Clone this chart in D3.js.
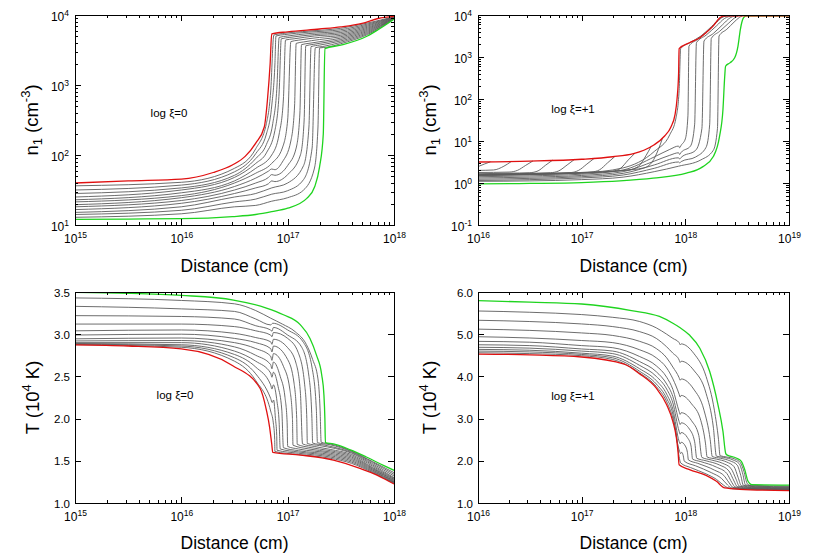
<!DOCTYPE html>
<html><head><meta charset="utf-8">
<script src="https://cdn.jsdelivr.net/npm/d3@7"></script>
<style>body{margin:0;background:#fff} text{font-family:"Liberation Sans",Arial,sans-serif}</style>
</head><body><svg id="c" width="830" height="554"></svg>
<script>
// ---------- tick arrays (exponents / values) ----------
const xDecA = [15,16,17,18];
const yDecA = [1,2,3,4];
const xDecB = [16,17,18,19];
const yDecB = [-1,0,1,2,3,4];
const yTicksC = [1.0,1.5,2.0,2.5,3.0,3.5];
const yTicksD = [1,2,3,4,5,6];
const noteA = "log ξ=0", noteB = "log ξ=+1";
const xTitle = "Distance (cm)";

// ---------- Panel A: n1, log xi = 0  ([log10 x, log10 n]) ----------
const redA = [[15,1.60],[15.5,1.63],[16,1.655],[16.3,1.75],[16.48,1.857],[16.6,1.98],[16.7,2.17],[16.78,2.40],[16.81,2.79],[16.835,3.3],[16.85,3.73],[17,3.76],[17.3,3.80],[17.5,3.83],[17.7,3.88],[17.85,3.95],[18,3.98]];
const greenA = [[15,1.08],[15.5,1.085],[16,1.09],[16.48,1.12],[16.7,1.15],[16.85,1.19],[17,1.24],[17.18,1.38],[17.255,1.55],[17.3,1.83],[17.335,2.3],[17.35,3.52],[17.5,3.57],[17.75,3.70],[17.85,3.79],[18,3.94]];
const graysA = [
 [[15,1.56],[16,1.61],[16.5,1.81],[16.7,2.09],[16.8,2.45],[16.84,2.9],[16.87,3.714],[16.95,3.735],[17.2,3.77],[17.5,3.81],[17.75,3.885],[18,3.975]],
 [[15,1.50],[16,1.57],[16.5,1.76],[16.7,2.02],[16.8,2.3],[16.85,2.7],[16.88,3.3],[16.89,3.70],[16.97,3.72],[17.2,3.755],[17.5,3.79],[17.75,3.87],[18,3.972]],
 [[15,1.45],[16,1.53],[16.5,1.71],[16.7,1.95],[16.8,2.15],[16.86,2.45],[16.9,3.0],[16.92,3.68],[17.0,3.70],[17.2,3.735],[17.5,3.77],[17.75,3.855],[18,3.97]],
 [[15,1.40],[16,1.50],[16.5,1.68],[16.7,1.88],[16.8,2.03],[16.88,2.35],[16.92,2.9],[16.94,3.66],[17.02,3.68],[17.25,3.72],[17.5,3.75],[17.75,3.84],[18,3.967]],
 [[15,1.36],[16,1.46],[16.5,1.63],[16.7,1.81],[16.85,2.0],[16.92,2.3],[16.96,2.8],[16.98,3.643],[17.06,3.66],[17.25,3.70],[17.5,3.73],[17.75,3.825],[18,3.964]],
 [[15,1.33],[16,1.42],[16.5,1.60],[16.7,1.74],[16.85,1.88],[16.95,2.1],[17.0,2.5],[17.03,3.62],[17.1,3.64],[17.3,3.68],[17.5,3.71],[17.75,3.81],[18,3.96]],
 [[15,1.29],[16,1.39],[16.5,1.55],[16.7,1.67],[16.82,1.77],[16.85,1.80],[16.88,1.79],[16.95,1.9],[17.03,2.2],[17.065,2.7],[17.08,3.595],[17.15,3.615],[17.3,3.65],[17.5,3.69],[17.75,3.795],[18,3.957]],
 [[15,1.26],[16,1.35],[16.5,1.50],[16.7,1.60],[16.82,1.68],[16.85,1.72],[16.88,1.71],[17.0,1.85],[17.08,2.1],[17.115,2.6],[17.13,3.576],[17.2,3.595],[17.35,3.63],[17.5,3.67],[17.75,3.78],[18,3.954]],
 [[15,1.22],[16,1.31],[16.5,1.45],[16.7,1.53],[16.82,1.59],[16.85,1.63],[16.88,1.62],[17.0,1.72],[17.12,2.0],[17.155,2.5],[17.17,3.56],[17.24,3.58],[17.5,3.65],[17.75,3.765],[18,3.951]],
 [[15,1.18],[16,1.26],[16.5,1.40],[16.7,1.45],[16.85,1.53],[17.0,1.6],[17.15,1.85],[17.2,2.4],[17.22,3.548],[17.3,3.57],[17.5,3.63],[17.75,3.75],[18,3.948]],
 [[15,1.15],[16,1.21],[16.5,1.33],[16.7,1.37],[16.85,1.44],[17.0,1.49],[17.15,1.65],[17.23,2.1],[17.26,3.533],[17.33,3.55],[17.5,3.61],[17.75,3.735],[18,3.945]],
 [[15,1.11],[16,1.16],[16.5,1.26],[16.7,1.28],[16.85,1.34],[17.0,1.39],[17.15,1.5],[17.25,1.8],[17.285,2.4],[17.30,3.53],[17.37,3.54],[17.5,3.59],[17.75,3.72],[18,3.942]]
];

// ---------- Panel B: n1, log xi = +1 ([log10 x, log10 n]) ----------
const redB = [[16,0.50],[16.5,0.52],[17,0.565],[17.3,0.625],[17.5,0.70],[17.6,0.78],[17.7,0.91],[17.8,1.12],[17.86,1.33],[17.9,1.62],[17.92,2.0],[17.935,2.6],[17.94,3.2],[18.04,3.34],[18.14,3.46],[18.2,3.58],[18.27,3.74],[18.33,3.93],[18.38,3.98],[19,3.98]];
const greenB = [[16,-0.02],[16.5,-0.01],[17,0.01],[17.37,0.05],[17.69,0.115],[18.01,0.235],[18.17,0.39],[18.27,0.63],[18.33,1.11],[18.363,1.75],[18.38,2.54],[18.388,2.78],[18.43,2.86],[18.476,2.98],[18.508,3.26],[18.531,3.66],[18.563,3.94],[18.59,3.98],[19,3.98]];
const graysB = [
 [[16,0.39],[16.06,0.45],[16.12,0.505]],
 [[16,0.30],[16.15,0.31],[16.25,0.40],[16.32,0.51]],
 [[16,0.25],[16.3,0.26],[16.38,0.30],[16.46,0.42],[16.53,0.525]],
 [[16,0.22],[16.3,0.235],[16.5,0.245],[16.58,0.29],[16.65,0.42],[16.72,0.545]],
 [[16,0.21],[16.4,0.225],[16.7,0.245],[16.78,0.29],[16.86,0.43],[16.93,0.56]],
 [[16,0.20],[16.5,0.225],[16.9,0.25],[16.97,0.30],[17.05,0.45],[17.12,0.585]],
 [[16,0.195],[16.5,0.215],[17.1,0.265],[17.17,0.31],[17.25,0.48],[17.32,0.63]],
 [[16,0.19],[16.5,0.21],[17,0.245],[17.3,0.285],[17.37,0.34],[17.45,0.55],[17.51,0.70]],
 [[16,0.185],[16.5,0.205],[17,0.24],[17.45,0.31],[17.55,0.40],[17.62,0.65],[17.67,0.87]],
 [[16,0.18],[16.5,0.20],[17,0.235],[17.4,0.30],[17.6,0.36],[17.68,0.50],[17.74,0.80],[17.78,1.07]],
 [[16,0.18],[16.5,0.2],[17,0.24],[17.4,0.36],[17.7,0.75],[17.85,1.15],[17.91,1.55],[17.94,2.2],[17.955,3.2],[18.05,3.35],[18.15,3.5],[18.25,3.72],[18.34,3.93],[18.40,3.98]],
 [[16,0.15],[16.5,0.17],[17,0.21],[17.4,0.31],[17.7,0.62],[17.85,0.80],[17.935,0.88],[17.945,0.84],[17.96,0.90],[18.0,1.05],[18.025,1.6],[18.035,3.26],[18.12,3.42],[18.22,3.62],[18.3,3.82],[18.37,3.96],[18.42,3.98]],
 [[16,0.12],[16.5,0.14],[17,0.18],[17.4,0.27],[17.7,0.52],[17.85,0.66],[17.935,0.72],[17.945,0.68],[17.96,0.73],[18.05,0.88],[18.09,1.4],[18.107,3.34],[18.2,3.52],[18.3,3.74],[18.38,3.92],[18.45,3.98]],
 [[16,0.09],[16.5,0.11],[17,0.15],[17.4,0.23],[17.7,0.43],[17.935,0.60],[17.945,0.57],[17.96,0.61],[18.1,0.78],[18.16,1.3],[18.18,3.38],[18.27,3.56],[18.36,3.77],[18.43,3.93],[18.48,3.98]],
 [[16,0.06],[16.5,0.08],[17,0.12],[17.4,0.19],[17.7,0.35],[17.935,0.50],[17.945,0.48],[17.96,0.51],[18.1,0.62],[18.2,0.85],[18.235,1.4],[18.25,3.44],[18.33,3.61],[18.42,3.81],[18.48,3.94],[18.51,3.98]],
 [[16,0.04],[16.5,0.05],[17,0.08],[17.4,0.14],[17.7,0.27],[17.935,0.40],[18.15,0.55],[18.27,0.78],[18.31,1.3],[18.325,3.5],[18.4,3.66],[18.47,3.83],[18.52,3.94],[18.55,3.98]]
];

// ---------- Panel C: T (1e4 K), log xi = 0 ([log10 x, T]) ----------
const redC = [[15,2.873],[15.5,2.86],[16,2.826],[16.48,2.63],[16.74,2.36],[16.8,2.1],[16.83,1.9],[16.85,1.7],[16.86,1.60],[17.12,1.568],[17.43,1.509],[17.68,1.41],[17.84,1.331],[17.96,1.252],[18,1.226]];
const greenC = [[15,3.496],[15.5,3.485],[16,3.46],[16.49,3.405],[16.8,3.31],[16.96,3.23],[17.12,3.11],[17.21,2.95],[17.27,2.755],[17.32,2.52],[17.341,2.28],[17.35,2.0],[17.355,1.714],[17.43,1.70],[17.59,1.63],[17.74,1.545],[17.9,1.446],[18,1.387]];
const graysC = [
 [[15,2.877],[16,2.845],[16.5,2.68],[16.7,2.45],[16.84,2.09],[16.865,1.95],[16.878,1.75],[16.88,1.61],[17.1,1.575],[17.4,1.53],[17.6,1.47],[17.8,1.36],[18,1.232]],
 [[15,2.883],[16,2.86],[16.5,2.72],[16.7,2.53],[16.84,2.24],[16.855,2.19],[16.868,2.22],[16.885,2.0],[16.897,1.8],[16.90,1.625],[17.1,1.59],[17.4,1.545],[17.6,1.485],[17.8,1.37],[18,1.238]],
 [[15,2.89],[16,2.875],[16.5,2.76],[16.7,2.61],[16.84,2.40],[16.852,2.35],[16.866,2.40],[16.9,2.2],[16.92,1.95],[16.93,1.64],[17.1,1.605],[17.4,1.56],[17.6,1.50],[17.8,1.38],[18,1.245]],
 [[15,2.90],[16,2.90],[16.5,2.80],[16.7,2.68],[16.84,2.54],[16.852,2.49],[16.866,2.55],[16.91,2.38],[16.945,2.1],[16.96,1.655],[17.1,1.62],[17.4,1.575],[17.6,1.515],[17.8,1.39],[18,1.252]],
 [[15,2.92],[16,2.925],[16.5,2.85],[16.7,2.75],[16.84,2.64],[16.852,2.59],[16.866,2.67],[16.93,2.5],[16.975,2.25],[16.995,1.95],[17.00,1.67],[17.1,1.64],[17.4,1.59],[17.6,1.53],[17.8,1.40],[18,1.26]],
 [[15,2.945],[16,2.955],[16.5,2.90],[16.7,2.83],[16.84,2.74],[16.852,2.69],[16.866,2.77],[16.96,2.62],[17.02,2.35],[17.045,2.0],[17.05,1.685],[17.2,1.64],[17.4,1.605],[17.6,1.545],[17.8,1.41],[18,1.27]],
 [[15,2.99],[16,3.00],[16.5,2.95],[16.7,2.90],[16.84,2.83],[16.852,2.79],[16.866,2.86],[17.0,2.7],[17.06,2.42],[17.085,2.0],[17.09,1.695],[17.2,1.66],[17.4,1.62],[17.6,1.56],[17.8,1.42],[18,1.28]],
 [[15,3.04],[16,3.05],[16.5,3.01],[16.7,2.96],[16.84,2.91],[16.852,2.88],[16.866,2.94],[17.0,2.84],[17.08,2.65],[17.12,2.3],[17.14,1.70],[17.25,1.67],[17.4,1.635],[17.6,1.575],[17.8,1.435],[18,1.29]],
 [[15,3.12],[16,3.12],[16.5,3.09],[16.7,3.04],[16.84,2.99],[16.852,2.97],[16.866,3.02],[17.0,2.95],[17.1,2.78],[17.16,2.4],[17.18,2.0],[17.185,1.705],[17.3,1.68],[17.45,1.645],[17.6,1.59],[17.8,1.45],[18,1.30]],
 [[15,3.22],[16,3.21],[16.5,3.18],[16.7,3.10],[16.84,3.05],[16.852,3.035],[16.866,3.08],[17.0,2.99],[17.13,2.85],[17.2,2.5],[17.228,2.0],[17.235,1.71],[17.35,1.685],[17.5,1.64],[17.6,1.60],[17.8,1.465],[18,1.32]],
 [[15,3.33],[16,3.30],[16.5,3.27],[16.7,3.18],[16.84,3.11],[16.86,3.13],[17.0,3.05],[17.15,2.9],[17.23,2.6],[17.27,2.1],[17.28,1.715],[17.4,1.69],[17.5,1.655],[17.6,1.61],[17.8,1.48],[18,1.34]],
 [[15,3.43],[16,3.40],[16.5,3.36],[16.7,3.28],[16.84,3.19],[16.95,3.12],[17.07,3.03],[17.175,2.88],[17.235,2.70],[17.285,2.47],[17.305,2.1],[17.315,1.72],[17.4,1.70],[17.5,1.665],[17.6,1.617],[17.8,1.49],[18,1.36]]
];

// ---------- Panel D: T (1e4 K), log xi = +1 ([log10 x, T]) ----------
const redD = [[16,4.53],[16.5,4.51],[17,4.46],[17.41,4.29],[17.56,4.06],[17.72,3.72],[17.82,3.33],[17.88,2.93],[17.914,2.54],[17.93,2.2],[17.94,1.907],[18.04,1.79],[18.2,1.656],[18.3,1.514],[18.38,1.356],[18.525,1.325],[19,1.295]];
const greenD = [[16,5.796],[16.5,5.76],[17,5.716],[17.48,5.56],[17.75,5.42],[17.88,5.26],[17.946,5.16],[18.04,4.98],[18.14,4.668],[18.235,4.116],[18.315,3.327],[18.363,2.697],[18.389,2.18],[18.40,2.14],[18.49,2.066],[18.54,1.988],[18.573,1.79],[18.605,1.514],[18.64,1.434],[19,1.425]];
const graysD = [
 [[16,4.56],[16.5,4.54],[17,4.49],[17.3,4.40],[17.56,4.08],[17.72,3.76],[17.82,3.40],[17.88,3.0],[17.915,2.6],[17.94,2.1],[17.955,1.95],[18.05,1.84],[18.2,1.69],[18.3,1.56],[18.37,1.42],[18.41,1.36],[18.5,1.33],[19,1.315]],
 [[16,4.60],[16.5,4.58],[17,4.52],[17.3,4.44],[17.56,4.12],[17.72,3.82],[17.82,3.48],[17.88,3.10],[17.93,2.35],[17.945,2.22],[17.955,2.17],[17.965,2.2],[17.98,2.12],[17.99,1.99],[18.1,1.88],[18.25,1.72],[18.35,1.58],[18.41,1.42],[18.44,1.36],[18.55,1.335],[19,1.32]],
 [[16,4.64],[16.5,4.62],[17,4.55],[17.3,4.48],[17.56,4.18],[17.72,3.90],[17.82,3.58],[17.88,3.22],[17.94,2.46],[17.95,2.40],[17.96,2.44],[18.0,2.35],[18.02,2.2],[18.03,2.02],[18.12,1.94],[18.28,1.78],[18.38,1.63],[18.43,1.45],[18.46,1.37],[18.58,1.34],[19,1.325]],
 [[16,4.69],[16.5,4.67],[17,4.60],[17.3,4.54],[17.56,4.26],[17.72,4.0],[17.82,3.70],[17.88,3.37],[17.94,2.70],[17.95,2.63],[17.96,2.67],[18.02,2.55],[18.055,2.35],[18.07,2.04],[18.15,1.98],[18.3,1.85],[18.4,1.70],[18.45,1.48],[18.48,1.38],[18.6,1.345],[19,1.33]],
 [[16,4.75],[16.5,4.73],[17,4.65],[17.3,4.60],[17.56,4.35],[17.72,4.11],[17.82,3.82],[17.88,3.52],[17.94,2.93],[17.95,2.86],[17.96,2.90],[18.04,2.75],[18.09,2.45],[18.11,2.06],[18.2,2.0],[18.33,1.90],[18.42,1.76],[18.47,1.52],[18.50,1.39],[18.62,1.355],[19,1.34]],
 [[16,4.83],[16.5,4.81],[17,4.73],[17.3,4.68],[17.56,4.47],[17.72,4.25],[17.82,3.98],[17.88,3.69],[17.94,3.17],[17.95,3.10],[17.96,3.14],[18.06,2.95],[18.13,2.6],[18.16,2.08],[18.25,2.02],[18.36,1.94],[18.44,1.82],[18.49,1.56],[18.52,1.40],[18.64,1.365],[19,1.35]],
 [[16,4.94],[16.5,4.91],[17,4.85],[17.3,4.80],[17.56,4.63],[17.72,4.44],[17.82,4.20],[17.88,3.94],[17.94,3.58],[17.95,3.51],[17.96,3.55],[18.06,3.35],[18.15,2.95],[18.195,2.4],[18.21,2.09],[18.3,2.04],[18.4,1.97],[18.47,1.86],[18.51,1.6],[18.54,1.41],[18.66,1.375],[19,1.36]],
 [[16,5.12],[16.5,5.09],[17,5.03],[17.3,4.97],[17.56,4.83],[17.72,4.66],[17.82,4.44],[17.88,4.22],[17.94,3.97],[17.95,3.91],[17.96,3.94],[18.08,3.7],[18.18,3.2],[18.24,2.5],[18.26,2.10],[18.34,2.06],[18.43,2.0],[18.5,1.9],[18.535,1.65],[18.56,1.42],[18.68,1.385],[19,1.37]],
 [[16,5.33],[16.5,5.30],[17,5.243],[17.3,5.18],[17.56,5.06],[17.72,4.90],[17.82,4.70],[17.88,4.55],[17.94,4.39],[17.95,4.33],[17.96,4.36],[18.08,4.15],[18.2,3.6],[18.27,2.8],[18.3,2.11],[18.37,2.08],[18.46,2.02],[18.52,1.93],[18.555,1.68],[18.58,1.43],[18.7,1.395],[19,1.385]],
 [[16,5.55],[16.5,5.52],[17,5.465],[17.3,5.40],[17.56,5.30],[17.72,5.15],[17.82,5.00],[17.88,4.90],[17.94,4.80],[17.95,4.75],[17.96,4.77],[18.08,4.55],[18.2,4.0],[18.28,3.2],[18.32,2.5],[18.335,2.12],[18.4,2.09],[18.48,2.04],[18.53,1.96],[18.565,1.75],[18.595,1.47],[18.62,1.42],[19,1.40]]
];

// ---------- drawing ----------
const FONT = '"Liberation Sans", Arial, sans-serif';
const svg = d3.select("#c");
const panels = [
  {id:"A", x0:75,  x1:394, y0:15,  y1:225, xDec:xDecA, logY:true,  yT:yDecA,  red:redA, green:greenA, grays:graysA, kind:"n", note:noteA, nx:169, ny:117, lx:38,  tb:272},
  {id:"B", x0:478, x1:789, y0:15,  y1:225, xDec:xDecB, logY:true,  yT:yDecB,  red:redB, green:greenB, grays:graysB, kind:"n", note:noteB, nx:573, ny:113, lx:436, tb:272},
  {id:"C", x0:75,  x1:394, y0:292, y1:503, xDec:xDecA, logY:false, yT:yTicksC, red:redC, green:greenC, grays:graysC, kind:"T", note:noteA, nx:175, ny:399, lx:39,  tb:549},
  {id:"D", x0:478, x1:789, y0:292, y1:503, xDec:xDecB, logY:false, yT:yTicksD, red:redD, green:greenD, grays:graysD, kind:"T", note:noteB, nx:573, ny:400, lx:436, tb:549}
];

function supLabel(sel, base, exp){
  sel.text(null);
  sel.append("tspan").attr("font-size", 12).text(base);
  sel.append("tspan").attr("font-size", 8.5).attr("dy", -5).text(exp);
}

function drawPanel(p){
  const last = a => a[a.length-1];
  const xs = d3.scaleLog().domain([10**p.xDec[0], 10**last(p.xDec)]).range([p.x0, p.x1]);
  const ys = p.logY
    ? d3.scaleLog().domain([10**p.yT[0], 10**last(p.yT)]).range([p.y1, p.y0])
    : d3.scaleLinear().domain([p.yT[0], last(p.yT)]).range([p.y1, p.y0]);
  const fx = d => xs(10**d[0]);
  const fy = d => p.logY ? ys(10**d[1]) : ys(d[1]);
  const line = d3.line().x(fx).y(fy).curve(d3.curveMonotoneX);

  const cid = "clip" + p.id;
  svg.append("clipPath").attr("id", cid).append("rect")
    .attr("x", p.x0).attr("y", p.y0).attr("width", p.x1 - p.x0).attr("height", p.y1 - p.y0);
  const g = svg.append("g").attr("clip-path", `url(#${cid})`);
  g.selectAll("path.gray").data(p.grays).enter().append("path").attr("class","gray")
    .attr("d", line).attr("fill","none").attr("stroke","#5c5c5c").attr("stroke-width",0.9);
  g.append("path").datum(p.green).attr("d", line).attr("fill","none").attr("stroke","#1fd41f").attr("stroke-width",1.3);
  g.append("path").datum(p.red).attr("d", line).attr("fill","none").attr("stroke","#e01010").attr("stroke-width",1.3);

  // ticks
  const xMaj = p.xDec.map(e => 10**e);
  const xMin = [];
  for (let i = 0; i < p.xDec.length - 1; i++) for (let m = 2; m < 10; m++) xMin.push(m * 10**p.xDec[i]);
  const ax = (gen, tx, ty) => {
    const a = svg.append("g").attr("transform", `translate(${tx},${ty})`).call(gen);
    a.select(".domain").remove();
    a.attr("font-family", FONT).attr("font-size", 12).attr("shape-rendering","crispEdges");
    return a;
  };
  const bot = ax(d3.axisBottom(xs).tickValues(xMaj).tickSize(-6).tickPadding(9).tickFormat(() => ""), 0, p.y1);
  bot.selectAll(".tick text").each(function(d){ supLabel(d3.select(this), "10", Math.round(Math.log10(d))); });
  ax(d3.axisBottom(xs).tickValues(xMin).tickSize(-3).tickFormat(() => ""), 0, p.y1);
  ax(d3.axisTop(xs).tickValues(xMaj).tickSize(-6).tickFormat(() => ""), 0, p.y0);
  ax(d3.axisTop(xs).tickValues(xMin).tickSize(-3).tickFormat(() => ""), 0, p.y0);

  if (p.logY) {
    const yMaj = p.yT.map(e => 10**e);
    const yMin = [];
    for (let i = 0; i < p.yT.length - 1; i++) for (let m = 2; m < 10; m++) yMin.push(m * 10**p.yT[i]);
    const left = ax(d3.axisLeft(ys).tickValues(yMaj).tickSize(-6).tickPadding(6).tickFormat(() => ""), p.x0, 0);
    left.selectAll(".tick text").attr("dy","0.42em").each(function(d){ supLabel(d3.select(this), "10", Math.round(Math.log10(d))); });
    ax(d3.axisLeft(ys).tickValues(yMin).tickSize(-3).tickFormat(() => ""), p.x0, 0);
    ax(d3.axisRight(ys).tickValues(yMaj).tickSize(-6).tickFormat(() => ""), p.x1, 0);
    ax(d3.axisRight(ys).tickValues(yMin).tickSize(-3).tickFormat(() => ""), p.x1, 0);
  } else {
    ax(d3.axisLeft(ys).tickValues(p.yT).tickSize(-6).tickPadding(5).tickFormat(d3.format(".1f")), p.x0, 0)
      .selectAll(".tick text").attr("dy","0.36em").attr("font-size", 11.5);
    ax(d3.axisRight(ys).tickValues(p.yT).tickSize(-6).tickFormat(() => ""), p.x1, 0);
  }

  // frame
  svg.append("rect").attr("x", p.x0).attr("y", p.y0).attr("width", p.x1 - p.x0).attr("height", p.y1 - p.y0)
    .attr("fill","none").attr("stroke","#000").attr("stroke-width",1).attr("shape-rendering","crispEdges");

  // x title
  svg.append("text").attr("x", (p.x0 + p.x1) / 2).attr("y", p.tb).attr("text-anchor","middle")
    .attr("font-size", 17.5).text(xTitle);

  // y title
  const t = svg.append("text").attr("transform", `translate(${p.lx},${(p.y0 + p.y1) / 2}) rotate(-90)`)
    .attr("text-anchor","middle").attr("font-size", 18.5);
  if (p.kind === "n") {
    t.append("tspan").text("n");
    t.append("tspan").attr("font-size", 13).attr("dy", 4).text("1");
    t.append("tspan").attr("dy", -4).text(" (cm");
    t.append("tspan").attr("font-size", 13).attr("dy", -8).text("-3");
    t.append("tspan").attr("dy", 8).text(")");
  } else {
    t.append("tspan").text("T (10");
    t.append("tspan").attr("font-size", 13).attr("dy", -8).text("4");
    t.append("tspan").attr("dy", 8).text(" K)");
  }

  // annotation
  svg.append("text").attr("x", p.nx).attr("y", p.ny).attr("text-anchor","middle")
    .attr("font-size", 11.5).text(p.note);
}

panels.forEach(drawPanel);
</script></body></html>
